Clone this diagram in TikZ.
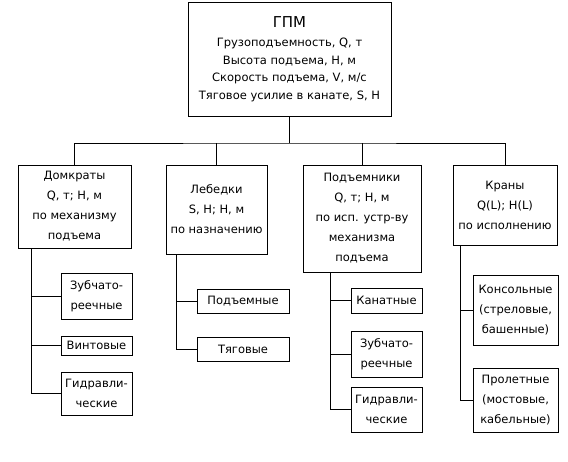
\documentclass[tikz,border=0pt]{standalone}
\usepackage{fontspec}
\setmainfont{DejaVu Sans}
\usetikzlibrary{positioning}

\begin{document}
\begin{tikzpicture}[x=1pt, y=-1pt, font=\fontsize{11.5}{20}\selectfont,
        box/.style={draw, align=center, inner sep=0pt, line width=0.8pt},
        link/.style={line width=0.8pt}]
            \useasboundingbox (0,0) rectangle (568,462);

            % main box
            \node[box, minimum width=203pt, minimum height=114pt, font=\fontsize{11.5}{17.5}\selectfont] (gpm) at (289.5,59)
                {{\fontsize{15}{17}\selectfont ГПМ}\\[2pt]
                 Грузоподъемность, Q, т\\ Высота подъема, H, м\\
                 Скорость подъема, V, м/с\\ Тяговое усилие в канате, S, H};

            % second level
            \node[box, minimum width=113pt, minimum height=83pt] (domk) at (74.5,206.5)
                {Домкраты\\ Q, т; H, м\\ по механизму\\ подъема};
            \node[box, minimum width=101pt, minimum height=89pt] (lebed) at (216.5,209.5)
                {Лебедки\\ S, H; H, м\\ по назначению};
            \node[box, minimum width=118pt, minimum height=107pt] (podem) at (362,218.5)
                {Подъемники\\ Q, т; H, м\\ по исп. устр-ву\\ механизма\\ подъема};
            \node[box, minimum width=104pt, minimum height=80pt] (kran) at (505,205)
                {Краны\\ Q(L); H(L)\\ по исполнению};

            % third level
            \node[box, minimum width=71pt, minimum height=46pt] (domk1) at (96.5,296) {Зубчато-\\ реечные};
            \node[box, minimum width=71pt, minimum height=19pt] (domk2) at (96.5,345.5) {Винтовые};
            \node[box, minimum width=71pt, minimum height=43pt] (domk3) at (96.5,393.5) {Гидравли-\\ ческие};

            \node[box, minimum width=92pt, minimum height=24pt] (leb1) at (243,301) {Подъемные};
            \node[box, minimum width=92pt, minimum height=24pt] (leb2) at (243,349) {Тяговые};

            \node[box, minimum width=71pt, minimum height=25pt] (pod1) at (386.5,300.5) {Канатные};
            \node[box, minimum width=71pt, minimum height=46pt] (pod2) at (386.5,354) {Зубчато-\\ реечные};
            \node[box, minimum width=71pt, minimum height=45pt] (pod3) at (386.5,409.5) {Гидравли-\\ ческие};

            \node[box, minimum width=85pt, minimum height=70pt] (kr1) at (515.5,310) {Консольные\\ (стреловые,\\ башенные)};
            \node[box, minimum width=85pt, minimum height=64pt] (kr2) at (515.5,400) {Пролетные\\ (мостовые,\\ кабельные)};

            % links
            \coordinate (bus) at (289.5,143);
            \draw[link] (gpm.south) -- (bus);
            \draw[link] (domk.north) |- (bus) -| (kran.north);
            \draw[link] (lebed.north) -- (lebed.north |- bus);
            \draw[link] (podem.north) -- (podem.north |- bus);

            \coordinate (dt) at ([xshift=14pt]domk.south west);
            \coordinate (lt) at ([xshift=11pt]lebed.south west);
            \coordinate (pt) at ([xshift=28pt]podem.south west);
            \coordinate (kt) at ([xshift=8pt]kran.south west);
            \foreach \c in {domk1, domk2, domk3} \draw[link] (dt) |- (\c.west);
            \foreach \c in {leb1, leb2} \draw[link] (lt) |- (\c.west);
            \foreach \c in {pod1, pod2, pod3} \draw[link] (pt) |- (\c.west);
            \foreach \c in {kr1, kr2} \draw[link] (kt) |- (\c.west);
        \end{tikzpicture}
\end{document}
